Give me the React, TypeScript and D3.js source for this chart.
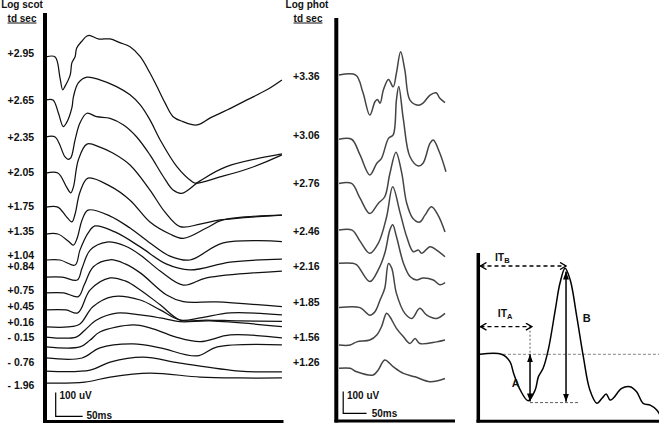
import React from 'react';
import * as d3 from 'd3';

const W = 659;
const H = 425;

// ---------- Scotopic panel (time ms, amplitude uV) ----------
const scotLabels = ['+2.95', '+2.65', '+2.35', '+2.05', '+1.75', '+1.35', '+1.04', '+0.84', '+0.75', '+0.45', '+0.16', '- 0.15', '- 0.76', '- 1.96'];
const scotLabelLevels = [1600, 1396, 1235, 1080, 932, 826, 722, 671, 570, 497, 430, 362, 257, 157];
const scotOffsets = [1583, 1396, 1235, 1078, 930, 813, 700, 626, 557, 483, 409, 365, 322, 274, 217, 165];

const scotTraces: number[][][] = [
  [[0,0],[17,0],[26,-91],[31,-143],[35,-129],[45,-78],[48,-26],[54,1],[57,39],[66,67],[76,91],[82,93],[97,78],[119,78],[137,62],[156,44],[175,1],[193,-70],[206,-129],[221,-200],[236,-260],[254,-281],[280,-296],[305,-265],[336,-231],[373,-187],[410,-143],[438,-100]],
  [[0,0],[13,0],[23,-57],[32,-116],[38,-100],[48,-35],[51,14],[60,74],[76,99],[100,87],[131,58],[156,22],[175,-22],[193,-87],[212,-174],[243,-290],[271,-355],[277,-362],[323,-335],[379,-296],[438,-239]],
  [[0,0],[17,0],[35,-86],[41,-97],[46,-91],[54,-13],[63,61],[76,103],[94,88],[119,81],[144,52],[168,1],[193,-78],[218,-173],[236,-231],[252,-245],[286,-191],[334,-130],[438,-74]],
  [[0,0],[22,0],[38,-60],[46,-86],[51,-60],[60,57],[76,126],[100,113],[124,87],[156,35],[193,-74],[221,-170],[249,-233],[286,-222],[323,-204],[438,-183]],
  [[0,0],[22,0],[37,-39],[48,-64],[54,-30],[63,65],[78,126],[119,91],[156,30],[193,-65],[230,-117],[255,-136],[298,-91],[327,-57],[438,-35]],
  [[0,0],[22,0],[41,-30],[51,-48],[58,-17],[67,61],[78,104],[119,78],[156,26],[193,-39],[230,-96],[267,-113],[329,-39],[438,-33]],
  [[0,0],[26,0],[54,-22],[63,43],[78,117],[91,148],[128,122],[175,57],[223,-17],[267,-43],[342,-9],[438,4]],
  [[0,0],[30,0],[58,-13],[67,39],[82,117],[113,152],[147,135],[175,96],[212,26],[255,-35],[298,-4],[438,26]],
  [[0,0],[33,0],[60,-16],[71,35],[88,114],[119,144],[147,126],[175,87],[224,-9],[255,-38],[316,-39],[438,-60]],
  [[0,0],[37,0],[59,-13],[82,87],[119,139],[147,126],[175,87],[212,22],[249,-44],[298,-44],[360,-48],[438,-50]],
  [[0,0],[41,0],[63,13],[87,88],[124,132],[175,117],[212,74],[249,30],[286,39],[342,61],[438,52]],
  [[0,0],[56,0],[72,30],[94,74],[131,104],[175,96],[212,83],[249,67],[305,70],[438,45]],
  [[0,0],[63,0],[82,30],[100,65],[162,96],[193,83],[240,44],[286,23],[342,52],[438,39]],
  [[0,0],[67,0],[100,44],[162,61],[212,44],[280,9],[318,48],[438,57]],
  [[0,0],[82,4],[119,39],[180,61],[249,35],[360,0],[438,-3]],
  [[0,0],[72,4],[119,26],[193,43],[286,26],[360,22],[438,22]],
];

// ---------- Photopic panel ----------
const photLabels = ['+3.36', '+3.06', '+2.76', '+2.46', '+2.16', '+1.85', '+1.56', '+1.26'];
const photLabelLevels = [1500, 1240, 1033, 826, 671, 516, 362, 255];
const photOffsets = [1504, 1225, 1033, 830, 686, 493, 330, 229];

const photTraces: number[][][] = [
  [[0,0],[36,0],[51,-74],[66,-174],[77,-116],[82,-106],[88,-122],[95,-65],[106,-19],[116,-51],[123,9],[132,101],[141,22],[152,-109],[170,-131],[180,-122],[195,-87],[208,-77],[216,-101],[227,-120]],
  [[0,0],[27,0],[45,-68],[66,-155],[81,-104],[91,-83],[106,4],[116,19],[123,171],[128,229],[138,84],[152,-76],[170,-116],[180,-104],[195,-17],[202,-3],[216,-61],[229,-141]],
  [[0,0],[27,0],[45,-64],[66,-131],[84,-87],[98,-58],[109,43],[122,136],[134,49],[145,-86],[158,-151],[173,-168],[184,-138],[198,-102],[212,-138],[227,-211]],
  [[0,0],[28,0],[45,-48],[66,-101],[84,-58],[102,58],[115,188],[131,74],[145,-29],[159,-94],[170,-87],[177,-101],[195,-72],[209,-87],[227,-116]],
  [[0,0],[28,0],[38,-7],[66,-80],[84,-29],[98,43],[109,145],[115,167],[123,116],[138,0],[152,-58],[166,-73],[180,-64],[202,-73],[216,-94],[227,-84]],
  [[0,0],[45,0],[66,-33],[77,-18],[88,33],[98,84],[106,192],[113,171],[123,62],[141,-25],[156,-47],[173,-3],[188,-33],[209,-47],[227,-25]],
  [[0,0],[24,0],[38,14],[66,22],[81,44],[91,80],[102,138],[109,123],[123,73],[138,36],[152,7],[163,29],[173,7],[209,14],[227,22]],
  [[0,0],[24,0],[38,-15],[73,-29],[84,-7],[98,36],[116,7],[138,-22],[163,-37],[195,-58],[227,-44]],
];

// ---------- Schematic (time ms, amplitude uV) ----------
const schemTrace: number[][] = [[0,0],[46,0],[64,-32],[72,-83],[86,-155],[103,-202],[118,-155],[125,-97],[135,-61],[146,19],[161,193],[171,309],[182,374],[193,323],[207,164],[221,-10],[235,-155],[250,-213],[261,-191],[270,-173],[278,-199],[285,-191],[303,-148],[321,-141],[335,-163],[349,-213],[364,-221],[378,-242],[385,-264]];
const troughA = [107, -205];   // time, amplitude of a-wave trough marker
const peakB = [184, 360];      // time, amplitude of b-wave peak marker
const itALevel = 120;
const itBLevel = 384;

const FONT = "Arial, 'Liberation Sans', sans-serif";

export default function App() {
  const xL = d3.scaleLinear().domain([0, 440]).range([46, 283]);
  const yL = d3.scaleLinear().domain([0, 1600]).range([421, 53]);
  const xM = d3.scaleLinear().domain([0, 230]).range([339, 446.4]);
  const yM = yL;
  const xS = d3.scaleLinear().domain([0, 385]).range([480, 660]);
  const yS = d3.scaleLinear().domain([-290, 400]).range([421, 262.3]);

  const mkLine = (x: any, y: any, off: number) =>
    d3.line<number[]>()
      .x(d => x(d[0]))
      .y(d => y(off + d[1]))
      .curve(d3.curveCatmullRom.alpha(0.5));

  const textStyle: any = { fontFamily: FONT, fontWeight: 'bold', fill: '#111' };

  return (
    <svg width={W} height={H} style={{ position: 'absolute', left: 0, top: 0, background: '#fff' }}>
      <defs>
        <marker id="solidArrow" viewBox="0 0 8 6" refX="8" refY="3" markerWidth="8" markerHeight="6" markerUnits="userSpaceOnUse" orient="auto-start-reverse">
          <path d="M0,0 L8,3 L0,6 z" fill="#000" />
        </marker>
        <marker id="openArrow" viewBox="0 0 8 8" refX="7" refY="4" markerWidth="8" markerHeight="8" markerUnits="userSpaceOnUse" orient="auto-start-reverse">
          <path d="M1,0.5 L7,4 L1,7.5" fill="none" stroke="#000" strokeWidth="1.4" />
        </marker>
      </defs>

      {/* ===== Left panel ===== */}
      <text x={22} y={8} textAnchor="middle" fontSize={10} style={textStyle}>Log scot</text>
      <text x={22} y={21.5} textAnchor="middle" fontSize={10} style={textStyle} textDecoration="underline">td sec</text>
      {scotLabels.map((l, i) => (
        <text key={l} x={7.5} y={yL(scotLabelLevels[i])} dy="0.35em" fontSize={10.5} style={textStyle}>{l}</text>
      ))}
      {scotTraces.map((t, i) => (
        <path key={i} d={mkLine(xL, yL, scotOffsets[i])(t) || ''} fill="none" stroke="#111" strokeWidth={1.25} strokeLinejoin="round" />
      ))}
      <line x1={45} y1={13} x2={45} y2={422.5} stroke="#000" strokeWidth={4} />
      <line x1={43} y1={421.5} x2={283.5} y2={421.5} stroke="#000" strokeWidth={3} />
      {/* scale bar */}
      <path d={`M${xL(18)},${yL(124)} V${yL(20)} H${xL(68)}`} fill="none" stroke="#000" strokeWidth={1.2} />
      <text x={xL(25)} y={yL(112)} dy="0.35em" fontSize={10} style={textStyle}>100 uV</text>
      <text x={xL(75)} y={yL(25)} dy="0.35em" fontSize={10} style={textStyle}>50ms</text>

      {/* ===== Middle panel ===== */}
      <text x={307} y={8} textAnchor="middle" fontSize={10} style={textStyle}>Log phot</text>
      <text x={308} y={21.5} textAnchor="middle" fontSize={10} style={textStyle} textDecoration="underline">td sec</text>
      {photLabels.map((l, i) => (
        <text key={l} x={293} y={yM(photLabelLevels[i])} dy="0.35em" fontSize={10.5} style={textStyle}>{l}</text>
      ))}
      {photTraces.map((t, i) => (
        <path key={i} d={mkLine(xM, yM, photOffsets[i])(t) || ''} fill="none" stroke="#444" strokeWidth={1.5} strokeLinejoin="round" />
      ))}
      <line x1={336.3} y1={18} x2={336.3} y2={422.5} stroke="#000" strokeWidth={4} />
      <line x1={334.5} y1={421} x2={455} y2={421} stroke="#000" strokeWidth={3} />
      <path d={`M${xM(9)},${yM(128)} V${yM(33)} H${xM(59)}`} fill="none" stroke="#000" strokeWidth={1.2} />
      <text x={xM(17)} y={yM(112)} dy="0.35em" fontSize={10} style={textStyle}>100 uV</text>
      <text x={xM(70)} y={yM(33)} dy="0.35em" fontSize={10} style={textStyle}>50ms</text>

      {/* ===== Schematic panel ===== */}
      <line x1={xS(49)} y1={yS(0)} x2={xS(385)} y2={yS(0)} stroke="#666" strokeWidth={0.8} strokeDasharray="3,2" />
      <line x1={xS(troughA[0])} y1={yS(-210)} x2={xS(214)} y2={yS(-210)} stroke="#333" strokeWidth={0.8} strokeDasharray="3,2" />
      <line x1={xS(troughA[0])} y1={yS(itALevel)} x2={xS(troughA[0])} y2={yS(0)} stroke="#333" strokeWidth={0.8} strokeDasharray="2,2" />
      <path d={mkLine(xS, yS, 0)(schemTrace) || ''} fill="none" stroke="#000" strokeWidth={1.5} strokeLinejoin="round" />
      {/* A arrow */}
      <line x1={xS(troughA[0])} y1={yS(0)} x2={xS(troughA[0])} y2={yS(troughA[1])} stroke="#000" strokeWidth={1.5} markerStart="url(#solidArrow)" markerEnd="url(#solidArrow)" />
      {/* B arrow */}
      <line x1={xS(peakB[0])} y1={yS(peakB[1])} x2={xS(peakB[0])} y2={yS(-206)} stroke="#000" strokeWidth={1.5} markerStart="url(#solidArrow)" markerEnd="url(#solidArrow)" />
      {/* IT arrows */}
      <line x1={xS(1)} y1={yS(itALevel)} x2={xS(111)} y2={yS(itALevel)} stroke="#000" strokeWidth={1.3} strokeDasharray="4,3" markerStart="url(#openArrow)" markerEnd="url(#openArrow)" />
      <line x1={xS(1)} y1={yS(itBLevel)} x2={xS(184)} y2={yS(itBLevel)} stroke="#000" strokeWidth={1.3} strokeDasharray="4,3" markerStart="url(#openArrow)" markerEnd="url(#openArrow)" />
      <text x={xS(38)} y={yS(itALevel + 42)} fontSize={10.5} style={textStyle}>IT<tspan fontSize={7.5} dy={2}>A</tspan></text>
      <text x={xS(32)} y={yS(itBLevel + 22)} fontSize={10.5} style={textStyle}>IT<tspan fontSize={7.5} dy={2}>B</tspan></text>
      <text x={xS(68)} y={yS(-125)} dy="0.35em" fontSize={11} style={textStyle}>A</text>
      <text x={xS(220)} y={yS(156)} dy="0.35em" fontSize={11} style={textStyle}>B</text>
      <line x1={478.3} y1={253} x2={478.3} y2={422.5} stroke="#000" strokeWidth={3.5} />
      <line x1={476.5} y1={421.2} x2={659} y2={421.2} stroke="#000" strokeWidth={3} />
    </svg>
  );
}
